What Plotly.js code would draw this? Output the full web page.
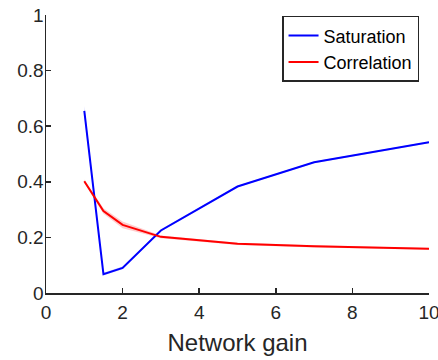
<!DOCTYPE html>
<html><head><meta charset="utf-8">
<script src="https://cdn.plot.ly/plotly-3.0.1.min.js"></script>
<style>html,body{margin:0;padding:0;background:#fff;}</style>
</head><body>
<div id="chart" style="width:438px;height:360px;"></div>
<script>
var gain = [1, 1.5, 2, 3, 5, 7, 10];
var satMean = [0.655, 0.068, 0.090, 0.225, 0.383, 0.470, 0.542];
var satErr = [0.018, 0.005, 0.005, 0.004, 0.003, 0.003, 0.003];
var corrMean = [0.402, 0.295, 0.245, 0.202, 0.177, 0.168, 0.159];
var corrErr = [0.006, 0.010, 0.012, 0.005, 0.004, 0.004, 0.003];
var xTicks = [0, 2, 4, 6, 8, 10];
var yTicks = [0, 0.2, 0.4, 0.6, 0.8, 1];
var yTickText = ['0', '0.2', '0.4', '0.6', '0.8', '1'];

function band(mean, err, color) {
  var up = mean.map(function (m, i) { return m + err[i]; });
  var lo = mean.map(function (m, i) { return m - err[i]; });
  return {
    x: gain.concat(gain.slice().reverse()),
    y: up.concat(lo.slice().reverse()),
    fill: 'toself', fillcolor: color, line: {width: 0},
    mode: 'lines', hoverinfo: 'skip', showlegend: false
  };
}

var traces = [
  band(satMean, satErr, 'rgba(0,0,255,0.2)'),
  band(corrMean, corrErr, 'rgba(255,0,0,0.2)'),
  {x: gain, y: satMean, mode: 'lines', name: 'Saturation', line: {color: '#0000ff', width: 2}},
  {x: gain, y: corrMean, mode: 'lines', name: 'Correlation', line: {color: '#ff0000', width: 2}}
];

var FONT = 'Liberation Sans, Arial, sans-serif';
var axisCommon = {
  showline: true, linecolor: '#262626', linewidth: 1.5,
  ticks: 'inside', ticklen: 5, tickwidth: 1.5, tickcolor: '#262626',
  showgrid: false, zeroline: false, mirror: false,
  ticklabeloverflow: 'allow',
  tickfont: {family: FONT, size: 19, color: '#262626'}
};

var layout = {
  width: 438, height: 360,
  margin: {l: 46, r: 9, t: 15, b: 67},
  paper_bgcolor: '#fff', plot_bgcolor: '#fff',
  xaxis: Object.assign({}, axisCommon, {
    range: [0, 10], tickvals: xTicks, ticklabelstandoff: 2,
    title: {text: 'Network gain', font: {family: FONT, size: 24, color: '#262626'}, standoff: 12}
  }),
  yaxis: Object.assign({}, axisCommon, {
    range: [0, 1], tickvals: yTicks, ticktext: yTickText, ticklabelstandoff: -3
  }),
  legend: {
    x: 0.974, y: 0.997, xanchor: 'right', yanchor: 'top',
    bgcolor: '#fff', bordercolor: '#262626', borderwidth: 1.5,
    font: {family: FONT, size: 18, color: '#000'},
    itemwidth: 30, tracegroupgap: 0
  },
  showlegend: true
};

Plotly.newPlot('chart', traces, layout, {displayModeBar: false, staticPlot: true});
</script>
</body></html>
